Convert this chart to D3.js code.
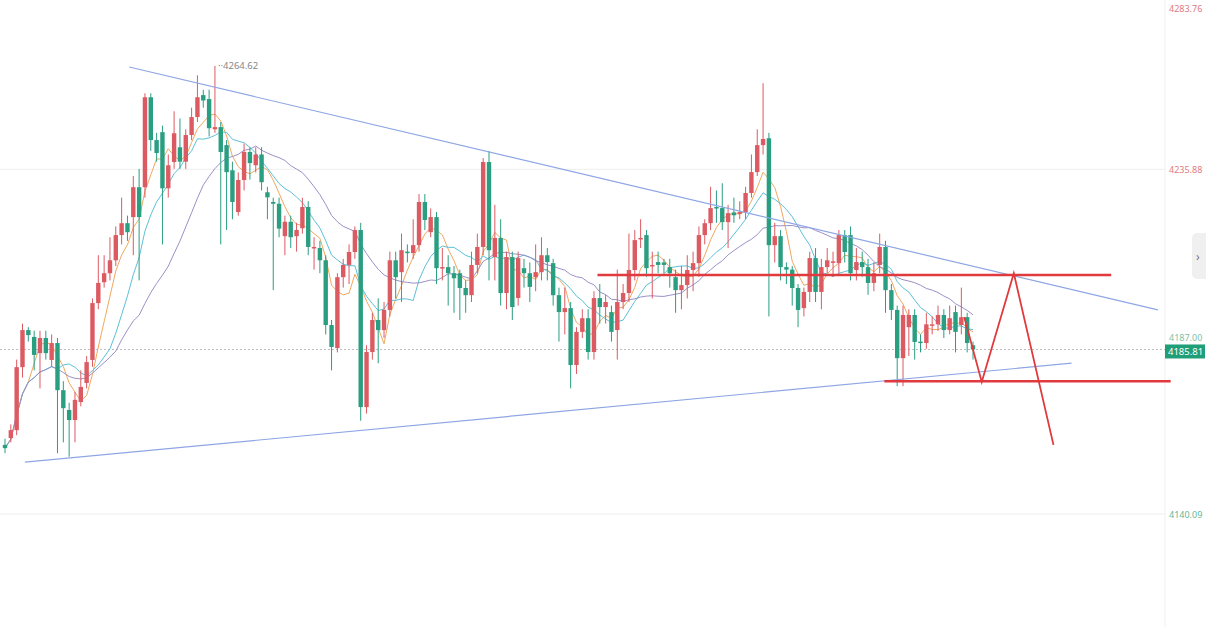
<!DOCTYPE html>
<html>
<head>
<meta charset="utf-8">
<script src="https://cdn.jsdelivr.net/npm/d3@7"></script>
<style>
  html, body { margin: 0; padding: 0; background: #fff; }
  svg { display: block; font-family: "Noto Sans", Roboto, sans-serif; }
</style>
</head>
<body>
<svg id="chart" width="1206" height="627"></svg>
<script>
// candles: [open, high, low, close]
const candles = [
  [4159.3,4161,4157,4158.4],[4161.2,4165,4160,4163.4],[4163.4,4183,4162,4180.9],[4180.9,4193,4178,4191.2],
  [4191.2,4192,4188,4189.8],[4189.3,4191,4180,4184.3],[4184.8,4191,4175,4189],[4189,4191,4183,4184.8],
  [4182.9,4190,4181,4187.6],[4187.6,4189,4157,4174.5],[4174.5,4177,4160,4169.5],[4169,4171,4156,4166.2],
  [4166.2,4174,4160,4171.8],[4171.2,4180,4170,4175.4],[4176.5,4184,4175,4182.3],[4182.9,4200,4181,4198.7],
  [4198.7,4212,4197,4204.3],[4204.5,4212,4203,4207],[4207,4217,4205,4210.6],[4210.6,4220,4209,4217.6],
  [4217.6,4228,4215,4220.9],[4220.9,4223,4216,4218.4],[4222.6,4234,4212,4230.9],[4230.9,4236,4205,4222.6],
  [4230.9,4257,4228,4255.9],[4255.9,4257,4241,4244],[4244,4246,4238,4240.4],[4246.2,4248,4215,4230.6],
  [4230.6,4240,4228,4237],[4237.9,4252,4236,4245.9],[4242,4250,4236,4238],[4238,4247,4236,4245.4],
  [4245.4,4253,4244,4250.4],[4250.4,4262,4249,4255.9],[4256.5,4258,4253,4255],[4255.4,4258,4245,4247.3],
  [4247,4264.62,4246,4247.6],[4247.6,4249,4215,4240.7],[4242.6,4244,4219,4235.1],[4235.6,4238,4222,4226.8],
  [4224,4235,4223,4232.9],[4232.9,4243,4230,4240.7],[4240.7,4242,4233,4237.6],[4237,4242,4235,4240],
  [4240,4242,4230,4232.3],[4229.5,4231,4222,4228.1],[4226.8,4228,4202.3,4226.3],[4226.3,4228,4217,4219.4],
  [4217.3,4223,4212,4221.3],[4221.3,4223,4214,4217],[4217.3,4221,4213,4219],[4219.5,4228,4218,4225.4],
  [4225.4,4227,4212,4214.3],[4214,4217,4208,4214.3],[4214,4216,4207,4210.6],[4210.6,4212,4190,4192.6],
  [4192.6,4194,4180,4186.5],[4186.2,4207,4185,4205.9],[4205.9,4211,4203,4209.3],[4209.3,4215,4204,4212.9],
  [4212.9,4220,4211,4219],[4219,4221,4166,4169.8],[4169.8,4187,4168,4185.1],[4185.1,4196,4183,4194],
  [4194,4200,4182,4191.2],[4191.2,4199,4189,4196.8],[4196.8,4213,4195,4210.6],[4210.6,4213,4200,4205.9],
  [4207.3,4218,4199,4213.4],[4213,4215,4210,4212.6],[4212.6,4222,4211,4214.8],[4214.8,4229,4213,4226.8],
  [4226.8,4229,4219,4221.8],[4218.4,4225,4217,4222.6],[4222.6,4224,4204,4208.4],[4208.4,4214,4205,4208.7],
  [4208.7,4212,4198,4207],[4207,4209,4196,4205.6],[4207,4208,4194,4202.9],[4202.9,4205,4196,4200.9],
  [4200.9,4213,4199,4209.3],[4209.3,4218,4207,4214.3],[4214.3,4239,4212,4237.9],[4237.9,4241,4205,4213.4],
  [4211.5,4226,4205,4216.8],[4216.8,4222,4198,4201.5],[4201.5,4213,4197,4211.5],[4211.5,4213,4194,4197.6],
  [4200.1,4213,4198,4211.2],[4208.4,4211,4203,4207],[4207,4210,4199,4203.2],[4205.9,4215,4202,4207.3],
  [4207.3,4217,4205,4212],[4212,4214,4205,4210.1],[4209.8,4211,4198,4200.9],[4200.9,4203,4188,4196.2],
  [4196.2,4203,4190,4197.3],[4197.3,4199,4175,4181.5],[4181.5,4192,4179,4190.7],[4190.7,4197,4189,4194.5],
  [4194.5,4197,4183,4185.1],[4185.1,4202,4183,4200.1],[4200.1,4204,4193,4197.6],[4197.6,4201,4193,4199],
  [4196.2,4198,4188,4190.7],[4191.2,4208,4183,4199],[4199,4204,4197,4201.5],[4201.5,4218,4199,4207.9],
  [4207.9,4219,4205,4216.2],[4216.5,4222,4214,4216.8],[4217.6,4219,4206,4208.4],[4209,4213,4200,4209.3],
  [4210.1,4213,4207,4209.3],[4210,4211,4207,4209.3],[4208.7,4211,4203,4207],[4205.9,4208,4196,4202.3],
  [4202.3,4209,4197,4203.7],[4203.7,4212,4200,4207.9],[4207.9,4213,4202,4209.8],[4209.8,4220,4206,4217.6],
  [4217.6,4222,4215,4220.9],[4220.9,4231,4219,4225.1],[4225.4,4230,4221,4225.1],[4225.1,4232,4219,4221.2],
  [4221.2,4226,4214,4223.7],[4223.9,4228,4221,4223.1],[4223.5,4227,4222,4224],[4224,4231,4222,4229.3],
  [4229.3,4240,4228,4235.1],[4235.1,4247,4234,4242.6],[4242.6,4259.8,4240,4244.3],[4244.5,4246,4195,4214.8],
  [4214.8,4221,4210,4217.3],[4217.3,4219,4205,4208.7],[4208.7,4210,4204,4208],[4208,4209,4198,4202.9],
  [4202.9,4204,4192,4196.8],[4197.3,4203,4195,4201.8],[4201.8,4213,4199,4211.2],[4211.2,4214,4199,4201.8],
  [4201.8,4211,4197,4208.7],[4208.7,4214,4207,4210.6],[4210,4213,4206,4210.3],[4209.8,4219,4207,4217.6],
  [4217.6,4219,4210,4212.9],[4217.6,4220,4205,4207],[4207.9,4214,4205,4210.1],[4210.1,4213,4206,4208.7],
  [4208.7,4211,4201,4204.3],[4204.3,4210,4202,4207],[4209.3,4218,4207,4214.3],[4214.3,4216,4196,4202.3],
  [4202.3,4204,4194,4196.8],[4196.8,4198,4175.6,4183.4],[4183.4,4198,4175.6,4195.4],[4192,4197,4184,4195.4],
  [4195.4,4197,4183,4187.9],[4188,4190,4185,4187.8],[4187.6,4196,4186,4192.8],[4192.6,4195,4190,4192.8],
  [4192.8,4198,4191,4195.4],[4195.4,4197,4189,4191.2],[4191.2,4198,4190,4194.5],[4196.2,4198,4185,4190.7],
  [4192.6,4203,4190,4194.8],[4194.8,4196,4185,4187.6],[4187,4188,4183,4185.81]
];

const axisLabels = [
  { price: 4280.8, text: "4283.76", color: "#e07a80" },
  { price: 4235.88, text: "4235.88", color: "#e07a80" },
  { price: 4189.2, text: "4187.00", color: "#7fbfa8" },
  { price: 4140.09, text: "4140.09", color: "#5fb79a" }
];
const lastPrice = 4185.81;
const peakLabel = { index: 36, price: 4264.62, text: "4264.62" };

// trend lines in (candle index, price)
const blueLines = [
  [[21.3, 4264.3], [197.7, 4196.8]],
  [[3.4, 4154.5], [182.9, 4182]]
];
const redLines = [
  [[101.6, 4206.5], [189.7, 4206.5]],
  [[150.8, 4177], [199.9, 4177]]
];
const zigzag = [[164.5, 4194.8], [167.5, 4176.8], [173, 4207], [179.8, 4159.3]];
const maPeriods = [5, 10, 20];
const maColors = ["#f0a860", "#5cc0d8", "#9a90c8"];

const svg = d3.select("#chart");
const x = d3.scaleLinear().domain([0, candles.length - 1]).range([5, 973]);
const y = d3.scaleLinear().domain([4140.09, 4283.76]).range([514, -3]);
const red = "#dc5a62", green = "#2a9e80";

// grid
svg.append("g").selectAll("line").data([4235.88, 4140.09]).join("line")
  .attr("x1", 0).attr("x2", 1165).attr("y1", d => y(d)).attr("y2", d => y(d))
  .attr("stroke", "#eeeeee");
svg.append("line").attr("x1", 1165).attr("x2", 1165).attr("y1", 0).attr("y2", 627).attr("stroke", "#f0f0f0");
svg.append("line").attr("x1", 0).attr("x2", 1165).attr("y1", y(lastPrice)).attr("y2", y(lastPrice))
  .attr("stroke", "#bdbdbd").attr("stroke-dasharray", "2,2");

// moving averages
const line = d3.line().x(d => x(d[0])).y(d => y(d[1]));
maPeriods.forEach((p, k) => {
  const pts = candles.map((c, i) => {
    const s = candles.slice(Math.max(0, i - p + 1), i + 1);
    return [i, d3.mean(s, d => d[3])];
  });
  svg.append("path").attr("d", line(pts)).attr("fill", "none")
    .attr("stroke", maColors[k]).attr("stroke-width", 1);
});

// candles
const g = svg.append("g").selectAll("g").data(candles).join("g");
g.append("line")
  .attr("x1", (d, i) => x(i)).attr("x2", (d, i) => x(i))
  .attr("y1", d => y(d[1])).attr("y2", d => y(d[2]))
  .attr("stroke", d => d[3] >= d[0] ? red : green).attr("stroke-width", 1);
g.append("rect")
  .attr("x", (d, i) => x(i) - 2.2).attr("width", 4.4)
  .attr("y", d => y(Math.max(d[0], d[3])))
  .attr("height", d => Math.max(1.5, Math.abs(y(d[0]) - y(d[3]))))
  .attr("fill", d => d[3] >= d[0] ? red : green);

// drawings
blueLines.forEach(l => svg.append("path").attr("d", line(l)).attr("fill", "none")
  .attr("stroke", "#8ea6e4").attr("stroke-width", 1.2));
redLines.forEach(l => svg.append("path").attr("d", line(l)).attr("fill", "none")
  .attr("stroke", "#e0393e").attr("stroke-width", 2.5));
svg.append("path").attr("d", line(zigzag)).attr("fill", "none")
  .attr("stroke", "#e0393e").attr("stroke-width", 1.8);

svg.append("text").attr("x", x(peakLabel.index) + 3).attr("y", y(peakLabel.price) + 3)
  .attr("font-size", 9.5).attr("fill", "#888").text("··" + peakLabel.text);

// axis labels
svg.append("g").selectAll("text").data(axisLabels).join("text")
  .attr("x", 1169).attr("y", d => y(d.price) + 4).attr("font-size", 9)
  .attr("fill", d => d.color).text(d => d.text);
svg.append("rect").attr("x", 1165).attr("y", y(lastPrice) - 5).attr("width", 40).attr("height", 14)
  .attr("fill", "#1f9e78");
svg.append("text").attr("x", 1168).attr("y", y(lastPrice) + 6).attr("font-size", 9.5)
  .attr("fill", "#fff").text(lastPrice.toFixed(2));

// side tab
svg.append("rect").attr("x", 1192).attr("y", 233).attr("width", 20).attr("height", 46).attr("rx", 5)
  .attr("fill", "#f0f0f0");
svg.append("text").attr("x", 1196).attr("y", 261).attr("font-size", 12).attr("fill", "#777").text("›");
</script>
</body>
</html>
